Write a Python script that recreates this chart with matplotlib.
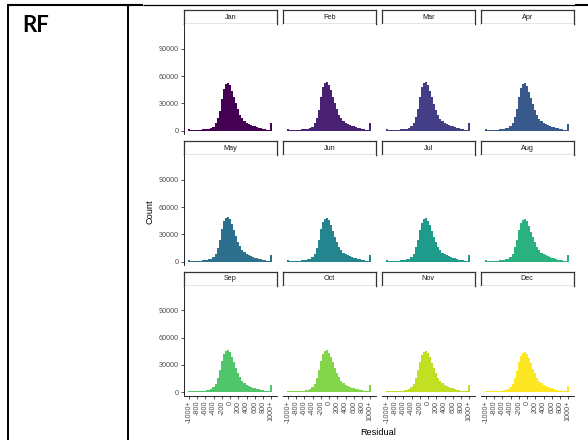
"""Monthly residual histograms (RF) laid out like a ggplot facet_wrap inside a table cell."""

import matplotlib
matplotlib.use("Agg")
import matplotlib.pyplot as plt
import numpy as np

plt.rcParams['font.family'] = ['Liberation Sans', 'DejaVu Sans']

months = ['Jan', 'Feb', 'Mar', 'Apr', 'May', 'Jun',
          'Jul', 'Aug', 'Sep', 'Oct', 'Nov', 'Dec']
colors = ['#440154', '#482173', '#433E85', '#38598C', '#2D708E', '#25858E',
          '#1E9B8A', '#2BB07F', '#51C56A', '#85D54A', '#C2DF23', '#FDE725']

# bin centres -1000 .. 1000 (step 50), last bin holds everything >= 1000
bin_centers = list(range(-1000, 1001, 50))
tick_values = [-1000, -800, -600, -400, -200, 0, 200, 400, 600, 800, 1000]
tick_labels = ['-1000+', '-800', '-600', '-400', '-200', '0',
               '200', '400', '600', '800', '1000+']
y_ticks = [0, 30000, 60000, 90000]

# counts per bin, in thousands
counts_k = {
    'Jan': [1.5, 0.9, 1.0, 1.0, 1.1, 1.2, 1.3, 1.5, 1.7, 2.0, 2.4,
            3.0, 4.5, 8.0, 14, 22, 35, 46, 51, 52.5, 50, 44, 37, 30, 23.5,
            17.5, 13.5, 10.5, 8.8, 7.5, 6.5, 5.6, 4.8, 4.1, 3.4, 2.8, 2.2, 1.7, 1.3, 1.0, 8.0],
    'Feb': [1.5, 0.9, 1.0, 1.0, 1.1, 1.2, 1.3, 1.5, 1.7, 2.0, 2.4,
            3.0, 4.6, 8.2, 14.5, 23, 36.5, 47.5, 52.5, 53.5, 50.5, 44.5, 37, 30, 23.5,
            17.5, 13.5, 10.5, 8.8, 7.5, 6.5, 5.6, 4.8, 4.1, 3.4, 2.8, 2.2, 1.7, 1.3, 1.0, 8.2],
    'Mar': [1.5, 0.9, 1.0, 1.0, 1.1, 1.2, 1.3, 1.5, 1.7, 2.0, 2.4,
            3.1, 4.7, 8.3, 14.8, 23.5, 37, 47.5, 52, 53, 50, 44, 36.5, 29.5, 23,
            17.2, 13.3, 10.4, 8.7, 7.4, 6.4, 5.5, 4.7, 4.0, 3.3, 2.7, 2.1, 1.6, 1.2, 1.0, 8.0],
    'Apr': [1.5, 0.9, 1.0, 1.0, 1.1, 1.2, 1.3, 1.5, 1.7, 2.0, 2.5,
            3.2, 4.9, 8.6, 15.3, 24, 37, 47, 51, 52, 49, 43, 36, 29, 22.8,
            17, 13.2, 10.3, 8.6, 7.3, 6.3, 5.4, 4.6, 3.9, 3.2, 2.6, 2.0, 1.6, 1.2, 0.9, 7.5],
    'May': [1.5, 0.9, 1.0, 1.0, 1.1, 1.2, 1.3, 1.5, 1.8, 2.1, 2.6,
            3.3, 5.0, 8.8, 15.5, 24, 36, 44.5, 48, 49, 46.5, 41, 34.5, 28, 22,
            16.8, 13, 10.2, 8.5, 7.2, 6.2, 5.3, 4.5, 3.8, 3.1, 2.5, 2.0, 1.5, 1.1, 0.9, 7.5],
    'Jun': [1.5, 0.9, 1.0, 1.0, 1.1, 1.2, 1.3, 1.5, 1.8, 2.1, 2.6,
            3.3, 5.0, 8.8, 15.5, 24, 35.5, 43.5, 47, 48, 45.5, 40.5, 34, 27.5, 21.8,
            16.6, 12.9, 10.1, 8.4, 7.1, 6.1, 5.2, 4.4, 3.7, 3.0, 2.5, 1.9, 1.5, 1.1, 0.9, 7.6],
    'Jul': [1.5, 0.9, 1.0, 1.0, 1.1, 1.2, 1.3, 1.5, 1.8, 2.1, 2.6,
            3.4, 5.1, 9.0, 15.8, 24, 35, 43, 46.5, 47.5, 45, 40, 33.5, 27.2, 21.6,
            16.5, 12.8, 10, 8.3, 7.1, 6.1, 5.2, 4.4, 3.7, 3.0, 2.4, 1.9, 1.5, 1.1, 0.9, 7.8],
    'Aug': [1.5, 0.9, 1.0, 1.0, 1.1, 1.2, 1.3, 1.5, 1.8, 2.1, 2.6,
            3.4, 5.1, 9.0, 15.8, 24, 34.5, 42.5, 46, 47, 44.5, 39.5, 33.2, 27, 21.5,
            16.4, 12.7, 10, 8.3, 7.0, 6.0, 5.1, 4.3, 3.6, 3.0, 2.4, 1.9, 1.4, 1.1, 0.9, 7.8],
    'Sep': [1.5, 0.9, 1.0, 1.0, 1.1, 1.2, 1.3, 1.5, 1.8, 2.1, 2.6,
            3.4, 5.2, 9.2, 16, 24, 34, 42, 45.5, 46.5, 44, 39, 33, 26.8, 21.3,
            16.3, 12.6, 9.9, 8.2, 7.0, 6.0, 5.1, 4.3, 3.6, 3.0, 2.4, 1.9, 1.4, 1.1, 0.9, 8.0],
    'Oct': [1.5, 0.9, 1.0, 1.0, 1.1, 1.2, 1.3, 1.5, 1.8, 2.1, 2.6,
            3.4, 5.2, 9.2, 16, 24, 34, 41.5, 45, 46, 43.5, 38.8, 32.8, 26.6, 21.2,
            16.2, 12.6, 9.9, 8.2, 7.0, 6.0, 5.1, 4.3, 3.6, 3.0, 2.4, 1.9, 1.4, 1.1, 0.9, 7.8],
    'Nov': [1.5, 0.9, 1.0, 1.0, 1.1, 1.2, 1.3, 1.5, 1.8, 2.1, 2.6,
            3.5, 5.3, 9.3, 16, 24, 33.5, 41, 44, 45, 42.8, 38.2, 32.4, 26.4, 21,
            16.1, 12.5, 9.8, 8.1, 6.9, 5.9, 5.0, 4.2, 3.5, 2.9, 2.3, 1.8, 1.4, 1.1, 0.9, 7.5],
    'Dec': [1.5, 0.9, 1.0, 1.0, 1.1, 1.2, 1.3, 1.5, 1.8, 2.1, 2.6,
            3.5, 5.3, 9.3, 16, 23.5, 33, 40, 43, 44, 42, 37.5, 32, 26, 20.8,
            16, 12.4, 9.7, 8.0, 6.8, 5.8, 4.9, 4.1, 3.4, 2.8, 2.2, 1.7, 1.3, 1.0, 0.8, 7.0],
}

W, H = 588, 440
fig = plt.figure(figsize=(W / 100, H / 100), dpi=100, facecolor='white')


def fig_rect(x0, y0, w, h):
    # pixel box (top-left origin) -> figure fraction rect
    return [x0 / W, 1 - (y0 + h) / H, w / W, h / H]


# table frame and the row label
base = fig.add_axes([0, 0, 1, 1])
base.set_xlim(0, W)
base.set_ylim(H, 0)
base.axis('off')
base.plot([7, 143], [5.5, 5.5], color='black', lw=1.5, solid_capstyle='butt')
base.plot([143, 575], [5.5, 5.5], color='black', lw=0.9, solid_capstyle='butt')
base.plot([575, 588], [5.5, 5.5], color='black', lw=1.5, solid_capstyle='butt')
base.plot([8.2, 8.2], [4.8, 440], color='black', lw=1.4)
base.plot([127.8, 127.8], [4.8, 440], color='black', lw=1.4)
base.text(22, 26, 'RF', fontsize=16, fontweight='bold', family=['Lato', 'DejaVu Sans'],
          ha='left', va='center', color='black')

col_left = [184, 283, 382, 481]
row_top = [10, 141, 271.5]
panel_w = 92.5
strip_h = 14.5
panel_h = 109.5
edges = np.append(np.array(bin_centers) - 25, bin_centers[-1] + 25)

for i, month in enumerate(months):
    r, c = divmod(i, 4)
    x0 = col_left[c]
    y0 = row_top[r]

    # strip
    sax = fig.add_axes(fig_rect(x0, y0, panel_w, strip_h))
    sax.set_xticks([])
    sax.set_yticks([])
    for sp in sax.spines.values():
        sp.set_color('#333333')
        sp.set_linewidth(0.9)
    sax.text(0.5, 0.5, month, ha='center', va='center', fontsize=5.2,
             color='#1A1A1A', transform=sax.transAxes)

    # panel: one filled step outline so no seams show between bins
    ax = fig.add_axes(fig_rect(x0, y0 + strip_h, panel_w, panel_h))
    vals = np.array(counts_k[month]) * 1000
    ax.fill_between(edges, np.append(vals, vals[-1]), step='post',
                    color=colors[i], lw=0)
    ax.set_xlim(-1115, 1125)
    ax.set_ylim(-3600, 116700)
    for sp in ['top', 'right']:
        ax.spines[sp].set_visible(False)
    ax.spines['left'].set_visible(c == 0)
    ax.spines['bottom'].set_visible(r == 2)
    for sp in ['left', 'bottom']:
        ax.spines[sp].set_linewidth(0.6)
        ax.spines[sp].set_color('black')

    if c == 0:
        ax.set_yticks(y_ticks)
        ax.set_yticklabels([str(v) for v in y_ticks])
        ax.tick_params(axis='y', labelsize=5.2, labelcolor='#4D4D4D', length=2.2,
                       width=0.6, color='#333333', pad=1.5)
    else:
        ax.set_yticks([])
    if r == 2:
        ax.set_xticks(tick_values)
        ax.set_xticklabels(tick_labels, rotation=90)
        ax.tick_params(axis='x', labelsize=5.2, labelcolor='#4D4D4D', length=2.2,
                       width=0.6, color='#333333', pad=1.5)
    else:
        ax.set_xticks([])

fig.text(378.5 / W, 1 - 432 / H, 'Residual', ha='center', va='center', fontsize=6.6)
fig.text(150 / W, 1 - 212 / H, 'Count', ha='center', va='center', fontsize=6.6,
         rotation=90)

fig.savefig('out.png', dpi=100, facecolor='white')
